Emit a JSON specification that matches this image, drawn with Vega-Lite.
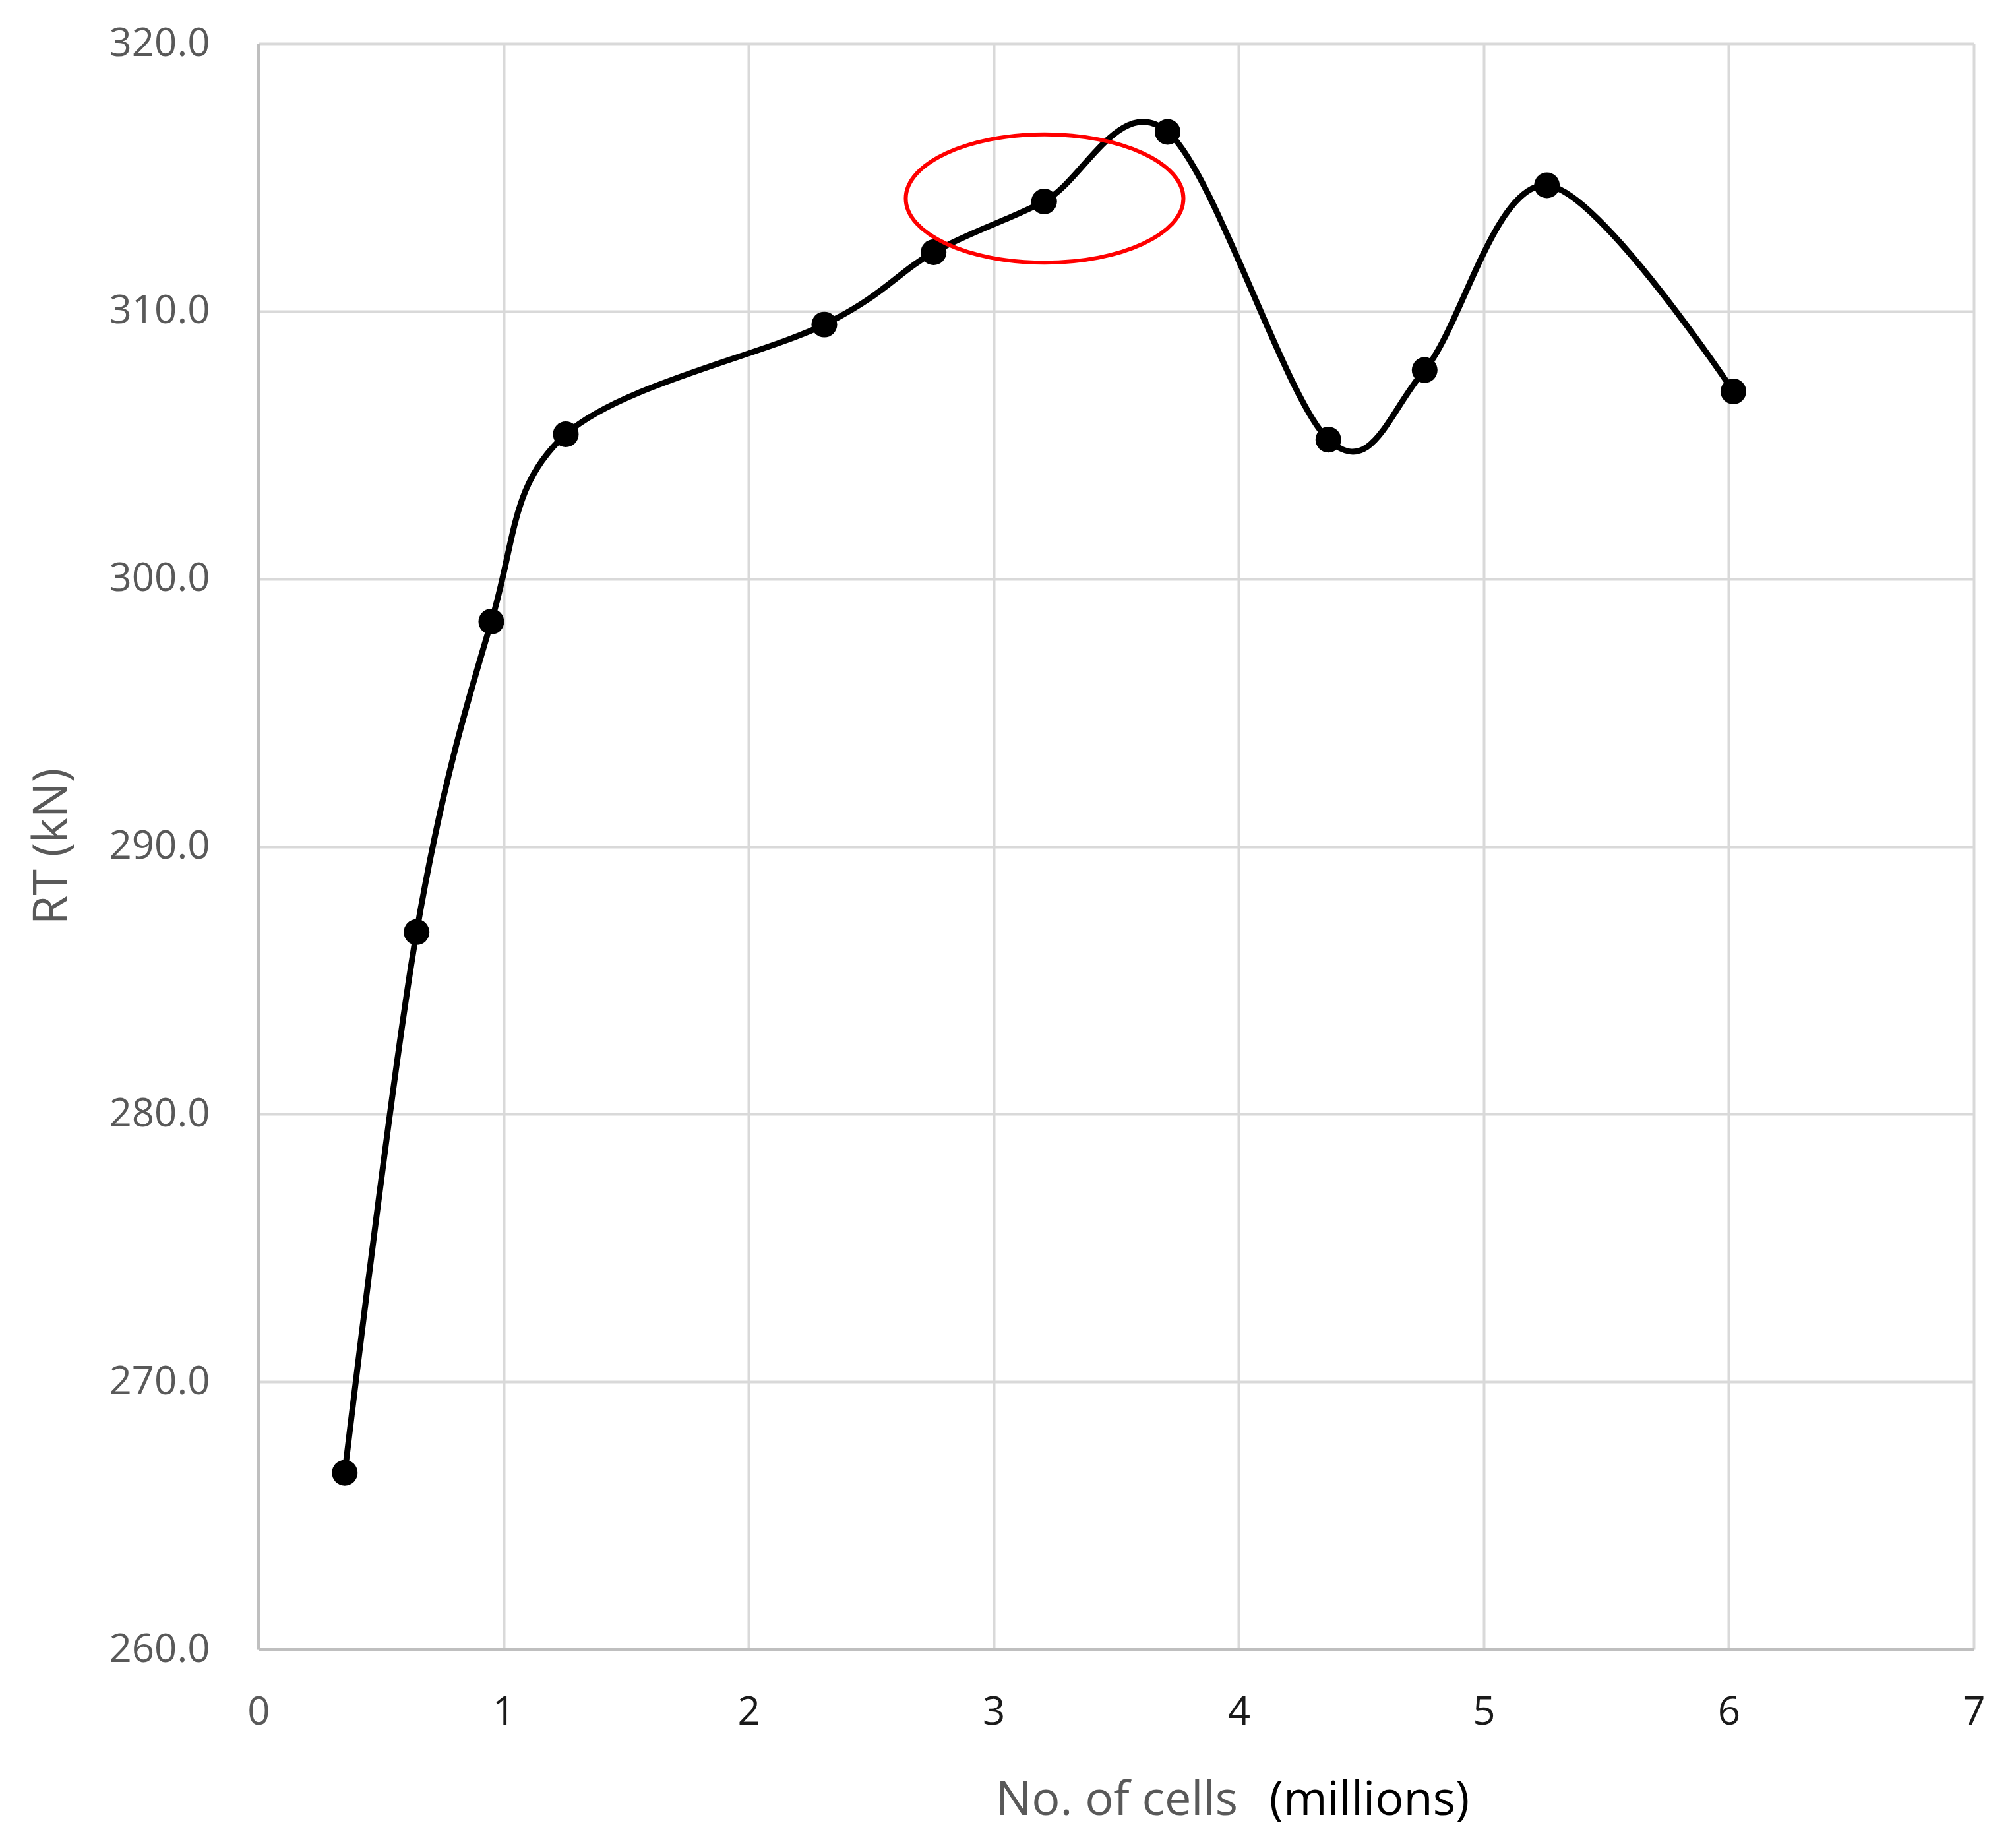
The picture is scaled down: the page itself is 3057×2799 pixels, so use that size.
{
  "$schema": "https://vega.github.io/schema/vega-lite/v6.json",
  "width": 2601,
  "height": 2435,
  "autosize": "none",
  "padding": {"left": 392, "top": 66, "right": 64, "bottom": 298},
  "background": "white",
  "config": {
    "view": {"stroke": null},
    "font": "Open Sans",
    "axis": {"labelFont": "Open Sans", "titleFont": "Open Sans", "titleFontWeight": "normal"}
  },
  "datasets": {
    "grid": [
      {"cells": 0.352, "rt": 266.6},
      {"cells": 0.645, "rt": 286.8},
      {"cells": 0.95, "rt": 298.4},
      {"cells": 1.254, "rt": 305.4},
      {"cells": 2.309, "rt": 309.5},
      {"cells": 2.755, "rt": 312.2},
      {"cells": 3.206, "rt": 314.1},
      {"cells": 3.71, "rt": 316.7},
      {"cells": 4.366, "rt": 305.2},
      {"cells": 4.759, "rt": 307.8},
      {"cells": 5.258, "rt": 314.7},
      {"cells": 6.019, "rt": 307.0}
    ],
    "highlight": [
      {"cells": 3.208, "rt": 314.21}
    ]
  },
  "resolve": {"axis": {"x": "independent"}},
  "encoding": {
    "y": {
      "field": "rt", "type": "quantitative",
      "scale": {"domain": [260, 320], "nice": false, "zero": false},
      "axis": {
        "values": [260, 270, 280, 290, 300, 310, 320],
        "format": ".1f",
        "grid": true, "gridColor": "#d9d9d9", "gridWidth": 4,
        "domain": true, "domainColor": "#bfbfbf", "domainWidth": 5,
        "ticks": false, "tickSize": 0,
        "labelFontSize": 60, "labelColor": "#595959",
        "labelPadding": 74, "labelBaseline": "middle",
        "labelOverlap": false,
        "title": "RT (kN)", "titleFontSize": 72, "titleColor": "#595959",
        "titleAngle": -90, "titleX": -292, "titleY": 1217,
        "titleBaseline": "alphabetic", "titleAlign": "center"
      }
    }
  },
  "layer": [
    {
      "data": {"name": "grid"},
      "mark": {"type": "line", "interpolate": "cardinal", "tension": 0, "color": "black", "strokeWidth": 9},
      "encoding": {
        "x": {
          "field": "cells", "type": "quantitative",
          "scale": {"domain": [0, 7], "nice": false, "zero": false},
          "axis": {
            "orient": "bottom",
            "values": [0, 1, 2, 3, 4, 5, 6, 7],
            "format": "d",
            "grid": true, "gridColor": "#d9d9d9", "gridWidth": 4,
            "domain": true, "domainColor": "#bfbfbf", "domainWidth": 5,
            "ticks": false, "tickSize": 0,
            "labelFontSize": 60,
            "labelColor": {"condition": {"test": "datum.value == 0", "value": "#595959"}, "value": "#1a1a1a"},
            "labelPadding": 66, "labelBaseline": "top",
            "labelFlush": false, "labelOverlap": false,
            "title": "No. of cells", "titleFontSize": 72, "titleColor": "#595959",
            "titleX": 1301, "titleY": 250, "titleBaseline": "alphabetic", "titleAlign": "center"
          }
        }
      }
    },
    {
      "data": {"name": "grid"},
      "mark": {"type": "point", "filled": true, "color": "black", "opacity": 1, "size": 1520},
      "encoding": {
        "x": {
          "field": "cells", "type": "quantitative",
          "scale": {"domain": [0, 7], "nice": false, "zero": false},
          "axis": {
            "orient": "bottom",
            "grid": false, "domain": false, "ticks": false, "labels": false,
            "title": "(millions)", "titleFontSize": 72, "titleColor": "#000000",
            "titleX": 1684, "titleY": 250, "titleBaseline": "alphabetic", "titleAlign": "center"
          }
        }
      }
    },
    {
      "data": {"name": "highlight"},
      "mark": {
        "type": "point",
        "shape": "M -1 0 C -1 -0.2552 -0.5523 -0.462 0 -0.462 C 0.5523 -0.462 1 -0.2552 1 0 C 1 0.2552 0.5523 0.462 0 0.462 C -0.5523 0.462 -1 0.2552 -1 0 Z",
        "filled": false, "stroke": "#ff0000", "strokeWidth": 6, "opacity": 1,
        "size": 177241
      },
      "encoding": {
        "x": {"field": "cells", "type": "quantitative", "axis": null}
      }
    }
  ]
}
